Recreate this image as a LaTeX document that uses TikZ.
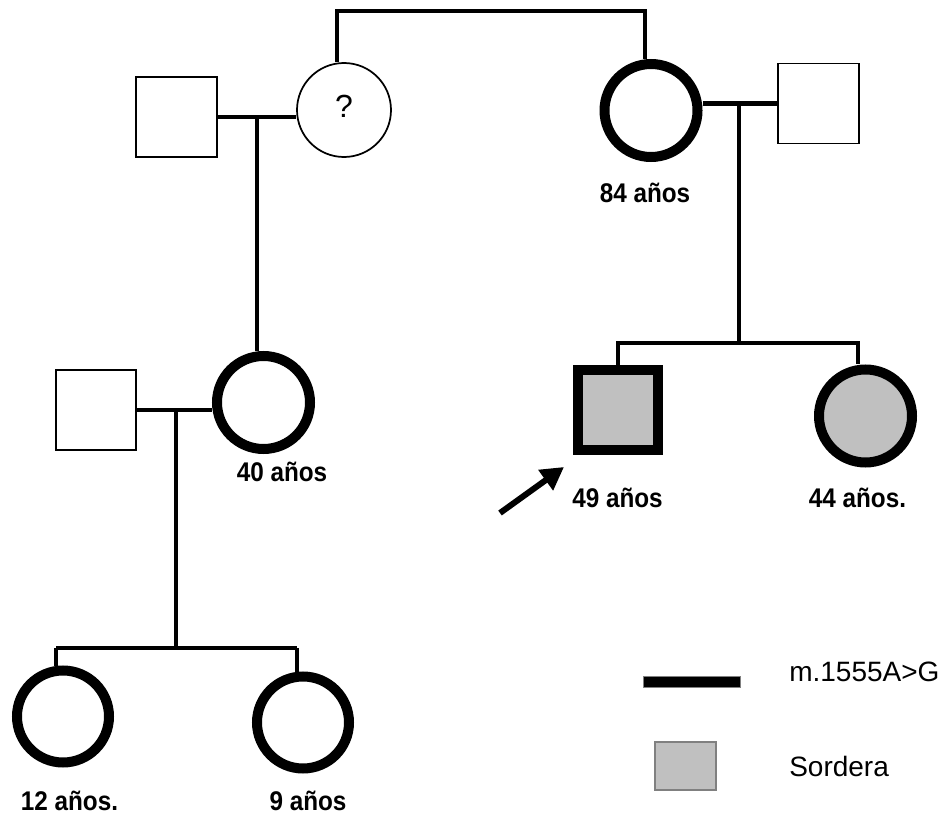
\documentclass[tikz,border=0pt]{standalone}
\usepackage{fontspec}
\setmainfont{Liberation Sans}
\newfontfamily\lblfont[FakeStretch=0.9]{Liberation Sans}
\usetikzlibrary{arrows.meta}
\definecolor{sgray}{HTML}{C0C0C0}
\definecolor{bgray}{HTML}{808080}
\begin{document}
\begin{tikzpicture}[x=0.75pt,y=-0.75pt,
  thinsq/.style={draw, rectangle, line width=1.3pt, fill=white, minimum width=60.75pt, minimum height=60pt, inner sep=0pt},
  thincirc/.style={draw, circle, line width=1.3pt, fill=white, minimum size=70.5pt, inner sep=0pt},
  thickcirc/.style={draw, circle, line width=7.5pt, fill=white, minimum size=69.75pt, inner sep=0pt},
  thicksq/.style={draw, rectangle, line width=7.5pt, fill=sgray, minimum size=60pt, inner sep=0pt},
  link/.style={line width=2.6pt},
  mlink/.style={line width=3.4pt},
  lbl/.style={font=\lblfont\bfseries\fontsize{20.25}{24}\selectfont, inner sep=0pt},
  legtxt/.style={font=\fontsize{21}{25}\selectfont, inner sep=0pt, anchor=west},
  arrowst/.style={line width=4.5pt, -{Triangle[length=17pt,width=18pt]}}
]
\useasboundingbox (0,0) rectangle (949,816);

% persons
\node[thinsq] (fA) at (176.5,117) {};
\node[thincirc] (q) at (344,110) {\fontsize{24}{28}\selectfont\raisebox{5pt}{?}};
\node[thickcirc] (g84) at (651,110.5) {};
\node[thinsq] (mB) at (818.5,103.5) {};
\node[thickcirc] (g40) at (263.5,402.5) {};
\node[thinsq, minimum width=60pt] (fC) at (96,410) {};
\node[thicksq] (p) at (618,410) {};
\node[thickcirc, fill=sgray] (s44) at (865.5,416) {};
\node[thickcirc, minimum size=69pt] (d12) at (63,716.5) {};
\node[thickcirc, minimum size=69pt] (d9) at (303,722.5) {};

% junction coordinates
\coordinate (t1) at (337,11);
\coordinate (t2) at (645,11);
\coordinate (j1) at (257,117);
\coordinate (j2) at (739,104);
\coordinate (s2) at (739,343);
\coordinate (s2r) at (858,343);
\coordinate (j3) at (176,410);
\coordinate (s3) at (176,648);
\coordinate (s3l) at (56,648);
\coordinate (s3r) at (297,648);
\coordinate (arrS) at (500,513);
\coordinate (arrT) at (564,467);

% connectors
\draw[link] (q.north -| t1) -- (t1) -- (t2) -- (g84.north -| t2);
\draw[mlink] (fA.east) -- (fA.east -| q.west);
\draw[link] (j1) -- (j1 |- g40.north);
\draw[mlink] (mB.west) -- (mB.west -| g84.east);
\draw[link] (j2) -- (s2);
\draw[link] (p.north) |- (s2);
\draw[link] (s2) -- (s2r) -- (s2r |- s44.north);
\draw[mlink] (fC.east) -- (fC.east -| g40.west);
\draw[link] (j3) -- (s3);
\draw[link] (s3l) -- (s3r);
\draw[link] (s3l) -- (s3l |- d12.north);
\draw[link] (s3r) -- (s3r |- d9.north);
\draw[arrowst] (arrS) -- (arrT);

% labels
\node[lbl] (l84) at (645,193) {84 años};
\node[lbl] (l40) at (282,472) {40 años};
\node[lbl] (l49) at (617.5,498) {49 años};
\node[lbl] (l44) at (857.5,498) {44 años.};
\node[lbl] (l12) at (69.5,801) {12 años.};
\node[lbl] (l9) at (308,801) {9 años};

% legend
\node[draw=bgray, fill=black, line width=0.75pt, minimum width=72.75pt, minimum height=8.25pt, inner sep=0pt] (legbar) at (691.5,681.5) {};
\node[draw=bgray, fill=sgray, line width=1.1pt, minimum width=45.75pt, minimum height=36pt, inner sep=0pt] (legsq) at (685.5,766) {};
\node[legtxt] (legt1) at (789,672) {m.1555A>G};
\node[legtxt] (legt2) at (789,766) {Sordera};
\end{tikzpicture}
\end{document}
